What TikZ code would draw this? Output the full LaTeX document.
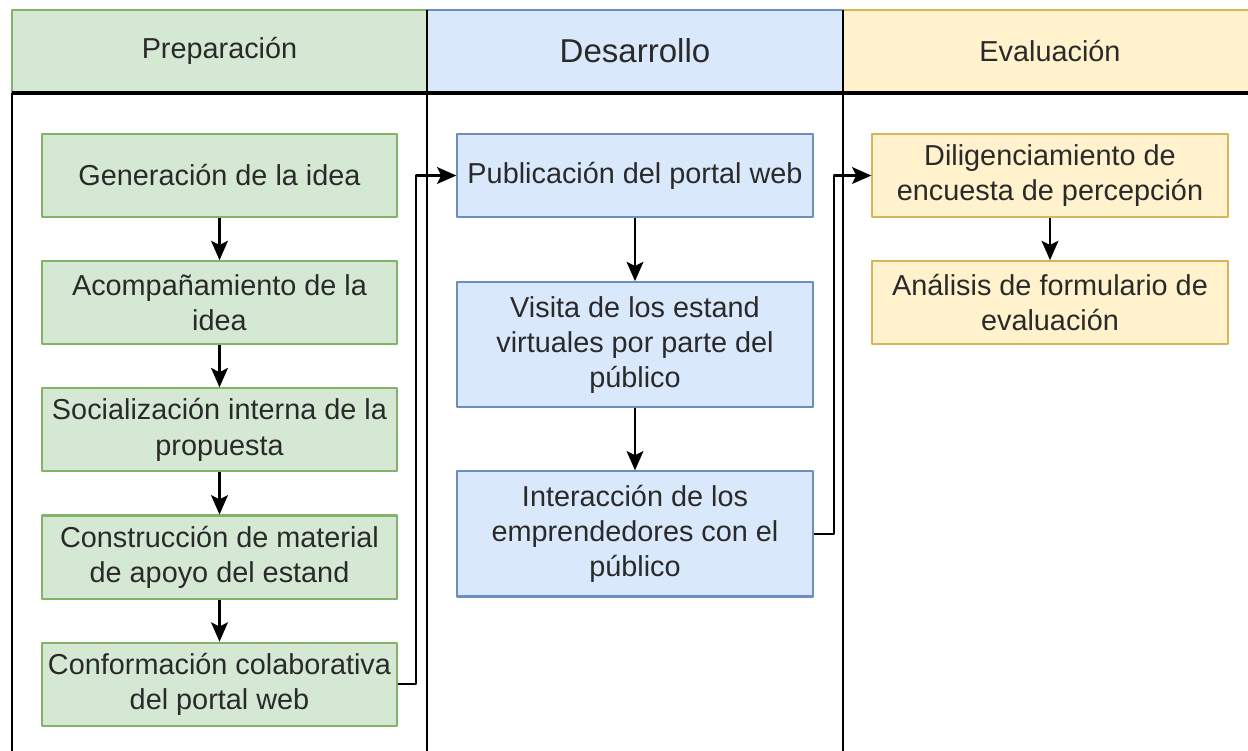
\documentclass[tikz,border=0pt]{standalone}
\usepackage{fontspec}
\setmainfont{Liberation Sans}
\usetikzlibrary{positioning,arrows.meta}
\definecolor{prepfill}{HTML}{D5E8D4}
\definecolor{prepline}{HTML}{82B366}
\definecolor{desfill}{HTML}{DAE8FC}
\definecolor{desline}{HTML}{6C8EBF}
\definecolor{evalfill}{HTML}{FFF2CC}
\definecolor{evalline}{HTML}{D6B656}
\definecolor{textgray}{HTML}{2A2A2A}
\tikzset{
  paso/.style={rectangle, minimum width=3.55cm, minimum height=0.83cm, inner sep=0pt, align=center, line width=0.6pt, text=textgray, font=\fontsize{8.2}{10}\selectfont},
  prep/.style={paso, fill=prepfill, draw=prepline},
  des/.style={paso, fill=desfill, draw=desline},
  eval/.style={paso, fill=evalfill, draw=evalline},
  flecha/.style={->, line width=0.6pt, black}
}
\begin{document}
\begin{tikzpicture}[x=0.01cm, y=-0.01cm, line join=round, >={Stealth[length=5.5pt,width=4.8pt,inset=1.2pt]}]
\useasboundingbox (0,0) rectangle (1248,750);
% cabeceras de los carriles
\draw[fill=prepfill, draw=prepline, line width=0.6pt] (12,10) rectangle (427,93);
\draw[fill=desfill, draw=desline, line width=0.6pt] (427,10) rectangle (843,93);
\draw[fill=evalfill, draw=evalline, line width=0.6pt] (843,10) rectangle (1260,93);
\node[text=textgray, font=\fontsize{8.2}{10}\selectfont] (tprep) at (219.5,51) {Preparación};
\node[text=textgray, font=\fontsize{9.4}{11}\selectfont] (tdes) at (635,51) {Desarrollo};
\node[text=textgray, font=\fontsize{8.2}{10}\selectfont] (teval) at (1050,51) {Evaluación};
\draw[line width=1.2pt] (12,93) -- (1260,93);
\draw[line width=0.8pt] (12,93) -- (12,760) (427,10) -- (427,760) (843,10) -- (843,760);
% Preparacion
\node[prep] (gen) at (219.5,175.5) {Generación de la idea};
\node[prep, below=0.42cm of gen] (acomp) {Acompañamiento de la\\idea};
\node[prep, below=0.42cm of acomp] (social) {Socialización interna de la\\propuesta};
\node[prep, below=0.42cm of social] (constr) {Construcción de material\\de apoyo del estand};
\node[prep, below=0.42cm of constr] (conf) {Conformación colaborativa\\del portal web};
% Desarrollo
\node[des] (publ) at (635,175.5) {Publicación del portal web};
\node[des, minimum height=1.25cm, below=0.63cm of publ] (visita) {Visita de los estand\\virtuales por parte del\\público};
\node[des, minimum height=1.25cm, below=0.62cm of visita] (inter) {Interacción de los\\emprendedores con el\\público};
% Evaluacion
\node[eval] (dilig) at (1050,175.5) {Diligenciamiento de\\encuesta de percepción};
\node[eval, below=0.42cm of dilig] (anal) {Análisis de formulario de\\evaluación};
% conectores
\foreach \a/\b in {gen/acomp,acomp/social,social/constr,constr/conf,publ/visita,visita/inter,dilig/anal}
  \draw[flecha] (\a) -- (\b);
\draw[flecha] (conf.east) -- ++(18,0) |- (publ.west);
\draw[flecha] (inter.east) -- ++(20,0) |- (dilig.west);
\end{tikzpicture}
\end{document}
